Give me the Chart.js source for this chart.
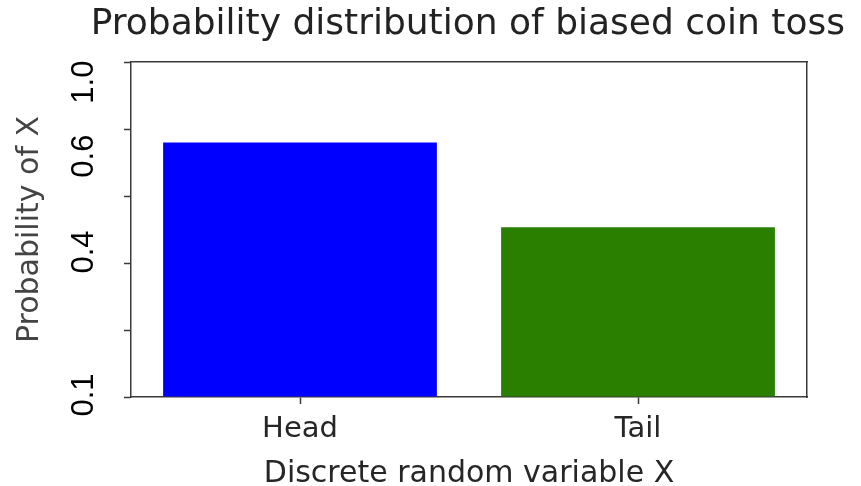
<!DOCTYPE html>
<html>
<head>
<meta charset="utf-8">
<script src="https://cdn.jsdelivr.net/npm/chart.js@4"></script>
<style>
  html, body { margin: 0; padding: 0; background: #ffffff; }
  canvas { display: block; }
</style>
</head>
<body>
<canvas id="c" width="861" height="486"></canvas>
<script>
// ---- data ----
const categories = ['Head', 'Tail'];
const probabilities = [0.76, 0.507];
const yTickLabels = ['0.1', '', '0.4', '', '0.6', '1.0'];
const chartTitle = 'Probability distribution of biased coin toss';
const xTitle = 'Discrete random variable X';
const yTitle = 'Probability of X';

// ---- style ----
const barColors = ['#0000ff', '#2a7e00'];
const frameColor = '#3a3a3a';
const yStep = 0.2;
// small vertical nudges (axis units) of the rotated labels relative to their ticks
const labelNudge = [0.006, 0, 0.033, 0, -0.081, -0.06];

const yLabelTicks = [];
yTickLabels.forEach((t, i) => {
  if (t !== '') yLabelTicks.push({ value: i * yStep + labelNudge[i], label: t });
});

new Chart(document.getElementById('c'), {
  type: 'bar',
  data: {
    labels: categories,
    datasets: [{
      data: probabilities,
      backgroundColor: barColors,
      borderWidth: 0,
      barPercentage: 0.81,
      categoryPercentage: 1.0,
      yAxisID: 'y'
    }]
  },
  options: {
    responsive: false,
    animation: false,
    devicePixelRatio: 1,
    layout: { padding: { left: 12, right: 16, top: 0, bottom: 0 } },
    plugins: {
      legend: { display: false },
      tooltip: { enabled: false },
      title: {
        display: true,
        fullSize: true,
        align: 'end',
        text: chartTitle,
        color: '#222222',
        font: { family: 'DejaVu Sans', size: 36, weight: 'normal', lineHeight: 1.2 },
        padding: { top: 2.9, bottom: 15.9 }
      }
    },
    scales: {
      x: {
        type: 'category',
        position: 'bottom',
        offset: true,
        grid: { display: true, offset: false, drawOnChartArea: false, drawTicks: true, tickLength: 7, color: frameColor, tickWidth: 1.5 },
        border: { display: true, color: frameColor, width: 1.5 },
        ticks: {
          color: '#262626',
          padding: 8,
          font: { family: 'DejaVu Sans', size: 29 }
        },
        title: {
          display: true,
          text: xTitle,
          color: '#262626',
          font: { family: 'DejaVu Sans', size: 30, lineHeight: 0.76 },
          padding: { top: 0, bottom: 0 }
        },
        afterFit: (s) => { s.height = 89; }
      },
      xTop: {
        type: 'linear',
        position: 'top',
        min: 0, max: 1,
        grid: { display: true, drawOnChartArea: false, drawTicks: false },
        border: { display: true, color: frameColor, width: 1.5 },
        ticks: { display: false }
      },
      y: {
        type: 'linear',
        position: 'left',
        weight: 0,
        min: 0, max: 1,
        ticks: { display: false, stepSize: yStep },
        grid: { display: true, drawOnChartArea: false, drawTicks: true, tickLength: 7, color: frameColor, tickWidth: 1.5 },
        border: { display: true, color: frameColor, width: 1.5 }
      },
      yLabels: {
        type: 'linear',
        position: 'left',
        weight: 1,
        min: 0, max: 1,
        grid: { display: false },
        border: { display: false },
        afterBuildTicks: (s) => { s.ticks = yLabelTicks.map(t => ({ value: t.value })); },
        ticks: {
          autoSkip: false,
          minRotation: 90,
          maxRotation: 90,
          crossAlign: 'center',
          padding: 10,
          color: '#000000',
          font: { family: 'Liberation Sans', size: 31 },
          callback: (v, i) => yLabelTicks[i] ? yLabelTicks[i].label : ''
        },
        title: {
          display: true,
          text: yTitle,
          color: '#444444',
          font: { family: 'DejaVu Sans', size: 30, lineHeight: 1.2 },
          padding: { top: 0, bottom: 0 }
        },
        afterFit: (s) => { s.width = 112; }
      },
      yRight: {
        type: 'linear',
        position: 'right',
        min: 0, max: 1,
        grid: { display: true, drawOnChartArea: false, drawTicks: false },
        border: { display: true, color: frameColor, width: 1.5 },
        ticks: { display: false },
        afterFit: (s) => { s.width = 38; }
      }
    }
  }
});
</script>
</body>
</html>
